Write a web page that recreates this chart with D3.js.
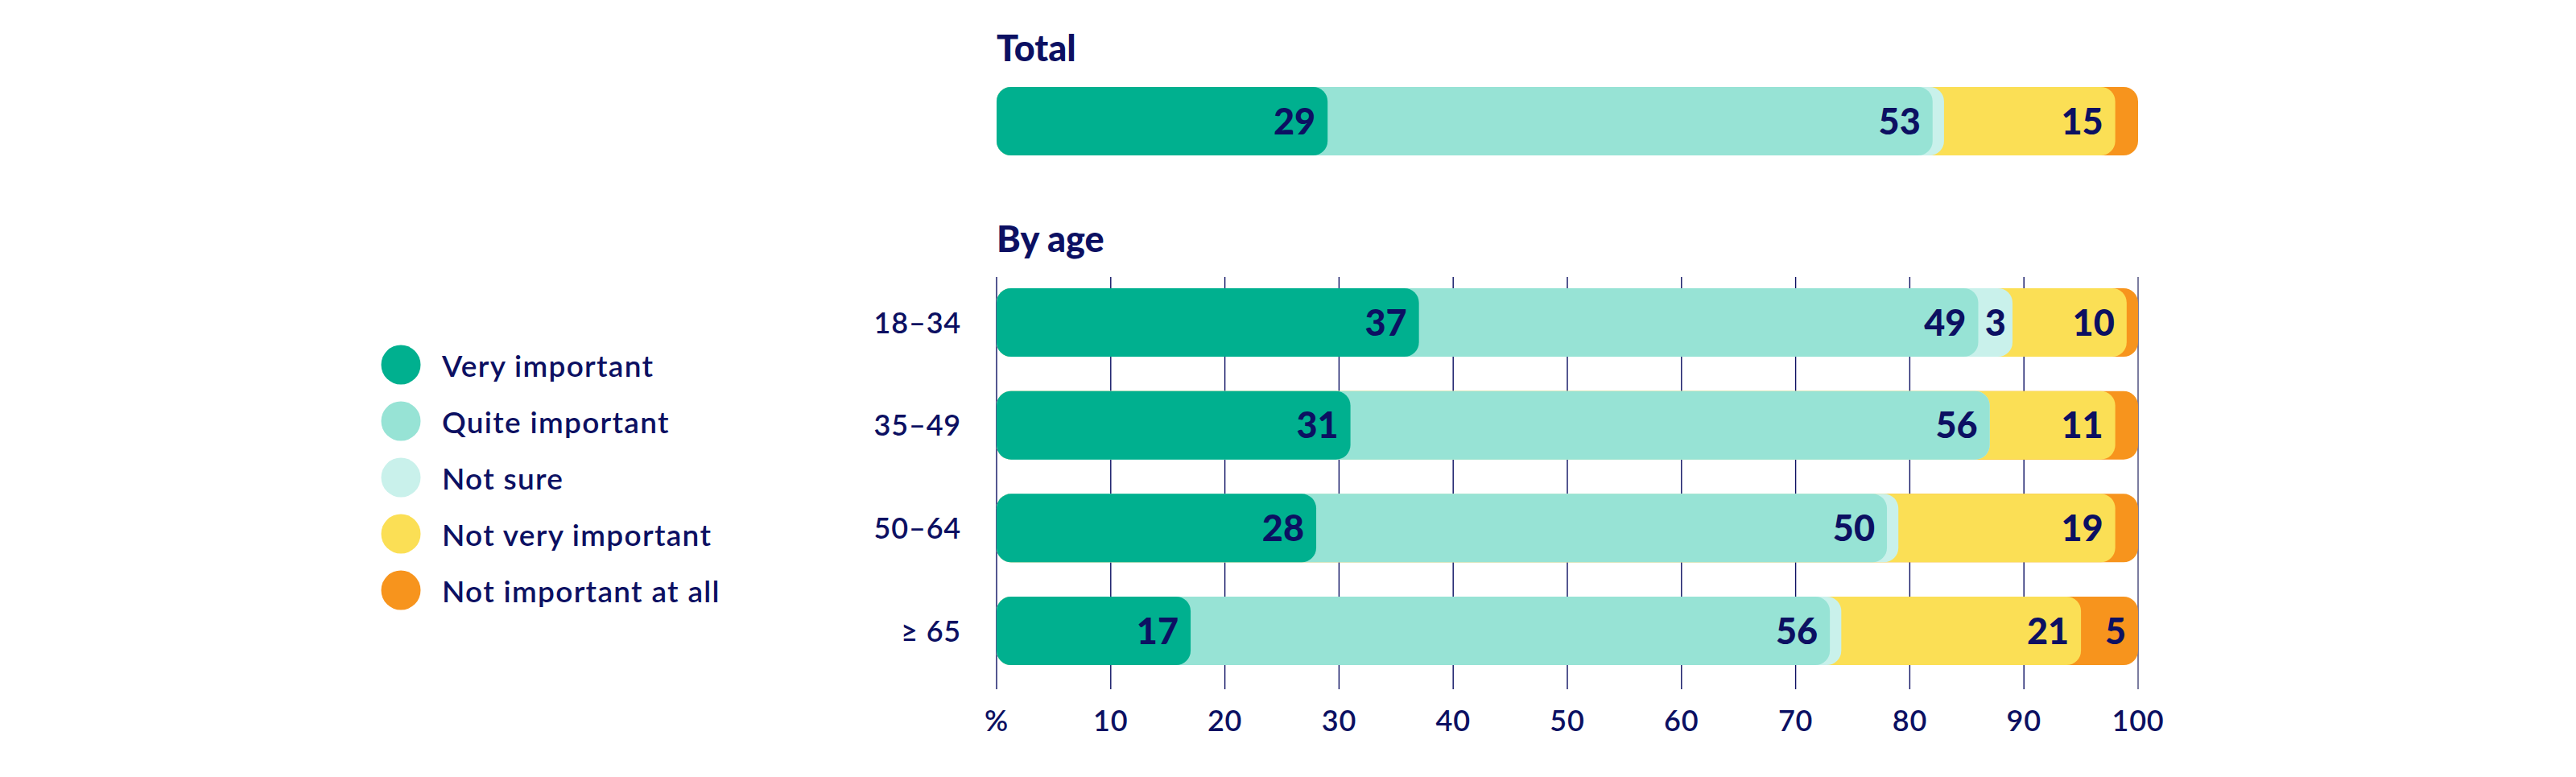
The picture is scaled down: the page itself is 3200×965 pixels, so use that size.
<!DOCTYPE html>
<html>
<head>
<meta charset="utf-8">
<script src="https://cdn.jsdelivr.net/npm/d3@7"></script>
<style>
  html, body { margin: 0; padding: 0; background: #ffffff; }
  svg { display: block; }
  text { font-family: Lato, "Noto Sans", sans-serif; }
</style>
</head>
<body>
<svg id="chart" width="3200" height="965"></svg>
<script>
// ---------- DATA ----------
const seriesNames = ["Very important", "Quite important", "Not sure", "Not very important", "Not important at all"];
const seriesColors = ["#00b08f", "#97e3d5", "#c9f1eb", "#fbdf55", "#f7941d"];
const totalLabel = "Total";
const totalValues = [29, 53, 1, 15, 2];
const ageCategories = ["18–34", "35–49", "50–64", "≥ 65"];
const veryImportant = [37, 31, 28, 17];
const quiteImportant = [49, 56, 50, 56];
const notSure = [3, 0, 1, 1];
const notVeryImportant = [10, 11, 19, 21];
const notImportantAtAll = [1, 2, 2, 5];
const tickValues = [0, 10, 20, 30, 40, 50, 60, 70, 80, 90, 100];
const tickLabels = ["%", "10", "20", "30", "40", "50", "60", "70", "80", "90", "100"];
const titles = ["Total", "By age"];

// ---------- LAYOUT ----------
const navy = "#0c1062";
const svg = d3.select("#chart");
const x = d3.scaleLinear().domain([0, 100]).range([1238, 2656]);
const barH = 85;
const totalY = d3.scaleBand().domain([totalLabel]).range([108, 193]);
const ageY = d3.scalePoint().domain(ageCategories).range([358, 741]);

const ageRows = ageCategories.map((c, i) => ({
  cat: c,
  values: [veryImportant[i], quiteImportant[i], notSure[i], notVeryImportant[i], notImportantAtAll[i]]
}));

// titles
svg.append("text").attr("x", x(0)).attr("y", 76)
  .attr("font-size", 45).attr("font-weight", 900).attr("fill", navy).text(titles[0]);
svg.append("text").attr("x", x(0)).attr("y", 313)
  .attr("font-size", 45).attr("font-weight", 900).attr("fill", navy).text(titles[1]);

// gridlines
const gridTop = 344, gridBottom = 856;
svg.append("g").selectAll("line").data(tickValues).join("line")
  .attr("x1", d => x(d)).attr("x2", d => x(d))
  .attr("y1", gridTop).attr("y2", gridBottom)
  .attr("stroke", d => d === 100 ? "#7b7ca0" : navy)
  .attr("stroke-width", d => d === 100 ? 2 : 1.4);

// tick labels
svg.append("g").selectAll("text").data(tickValues).join("text")
  .attr("x", d => x(d)).attr("y", 908)
  .attr("text-anchor", "middle")
  .attr("font-size", 36).attr("font-weight", 600).attr("letter-spacing", 0.8).attr("fill", navy)
  .text((d, i) => tickLabels[i]);

function drawRow(g, values, y0) {
  const cum = [];
  let s = 0;
  values.forEach(v => { cum.push({ start: s, end: s + v, v }); s += v; });
  // draw from last to first so earlier segments overlap later ones
  const order = cum.map((d, i) => ({ ...d, i })).reverse();
  g.selectAll("rect.seg").data(order).join("rect")
    .attr("class", "seg")
    .attr("x", x(0)).attr("y", y0)
    .attr("width", d => x(d.end) - x(0))
    .attr("height", barH)
    .attr("rx", 18).attr("ry", 18)
    .attr("fill", d => seriesColors[d.i]);
  g.selectAll("text.lbl").data(cum.filter(d => d.v >= 3)).join("text")
    .attr("class", "lbl")
    .attr("x", d => {
      const w = x(d.end) - x(d.start);
      return w < 55 ? (x(d.start) + x(d.end)) / 2 : x(d.end) - 15;
    })
    .attr("text-anchor", d => (x(d.end) - x(d.start)) < 55 ? "middle" : "end")
    .attr("y", y0 + barH / 2 + 16)
    .attr("font-size", 45).attr("font-weight", 900).attr("fill", navy)
    .text(d => d.v);
}

drawRow(svg.append("g"), totalValues, totalY(totalLabel));
ageRows.forEach(r => {
  const g = svg.append("g");
  drawRow(g, r.values, ageY(r.cat));
  g.append("text").attr("x", 1194).attr("y", ageY(r.cat) + barH / 2 + 13)
    .attr("text-anchor", "end").attr("font-size", 36).attr("font-weight", 600)
    .attr("letter-spacing", 0.8)
    .attr("fill", navy).text(r.cat);
});

// legend
const legY = d3.scalePoint().domain(seriesNames).range([453, 733]);
const leg = svg.append("g");
leg.selectAll("circle").data(seriesNames).join("circle")
  .attr("cx", 498).attr("cy", d => legY(d)).attr("r", 24.5)
  .attr("fill", (d, i) => seriesColors[i]);
leg.selectAll("text").data(seriesNames).join("text")
  .attr("x", 549).attr("y", d => legY(d) + 15)
  .attr("font-size", 37).attr("font-weight", 600).attr("letter-spacing", 1.3).attr("fill", navy)
  .text(d => d);
</script>
</body>
</html>
